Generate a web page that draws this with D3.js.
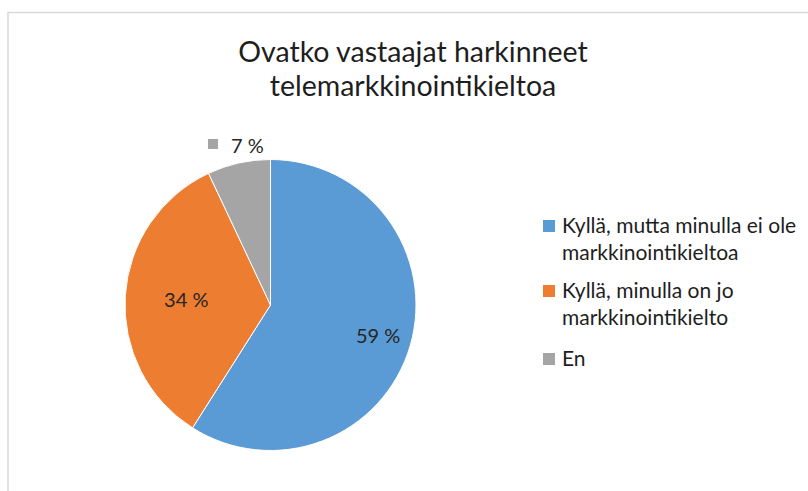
<!DOCTYPE html>
<html>
<head>
<meta charset="utf-8">
<script src="https://cdn.jsdelivr.net/npm/d3@7"></script>
<style>
  body { margin: 0; background: #fff; }
  svg { display: block; font-family: Lato, 'Noto Sans', sans-serif; }
</style>
</head>
<body>
<svg id="chart" width="808" height="491"></svg>
<script>
const titleLines = ['Ovatko vastaajat harkinneet', 'telemarkkinointikieltoa'];
const categories = ['Kyllä, mutta minulla ei ole markkinointikieltoa', 'Kyllä, minulla on jo markkinointikielto', 'En'];
const values = [59, 34, 7];
const valueLabels = ['59 %', '34 %', '7 %'];
const colors = ['#5b9bd5', '#ed7d31', '#a5a5a5'];

const svg = d3.select('#chart');

// chart area border, runs off the right and bottom edges
svg.append('rect')
  .attr('x', 8).attr('y', 12.5)
  .attr('width', 900).attr('height', 600)
  .attr('fill', '#fff')
  .attr('stroke', '#d9d9d9')
  .attr('stroke-width', 1.5);

// title
svg.append('g')
  .selectAll('text')
  .data(titleLines)
  .join('text')
  .attr('x', 413)
  .attr('y', (d, i) => 62 + i * 34)
  .attr('text-anchor', 'middle')
  .attr('font-size', 28.5)
  .attr('fill', '#1e1e1e')
  .text(d => d);

// pie
const cx = 270.5, cy = 305, R = 145.5;
const pie = d3.pie().sort(null).value(d => d);
const arcs = pie(values);
const arc = d3.arc().innerRadius(0).outerRadius(R);

const g = svg.append('g').attr('transform', `translate(${cx},${cy})`);
g.selectAll('path')
  .data(arcs)
  .join('path')
  .attr('d', arc)
  .attr('fill', (d, i) => colors[i])
  .attr('stroke', '#fff')
  .attr('stroke-width', 1);

// data labels (best fit: big slices inside, small one outside with key)
const labelR = [0.77, 0.58, 1.12];
arcs.forEach((a, i) => {
  const la = d3.arc().innerRadius(R * labelR[i]).outerRadius(R * labelR[i]);
  const [lx, ly] = la.centroid(a);
  const lg = g.append('g').attr('transform', `translate(${lx},${ly})`);
  if (labelR[i] > 1) {
    lg.append('rect')
      .attr('x', -27).attr('y', -7)
      .attr('width', 10).attr('height', 10)
      .attr('fill', colors[i]);
    lg.append('text')
      .attr('x', -4).attr('y', 7)
      .attr('font-size', 20)
      .attr('fill', '#262626')
      .text(valueLabels[i]);
  } else {
    lg.append('text')
      .attr('y', 7)
      .attr('text-anchor', 'middle')
      .attr('font-size', 20)
      .attr('fill', '#262626')
      .text(valueLabels[i]);
  }
});

// legend
const legend = svg.append('g').attr('transform', 'translate(543,0)');
const itemY = [233, 298, 366];
categories.forEach((c, i) => {
  const item = legend.append('g');
  item.append('rect')
    .attr('x', 0).attr('y', itemY[i] - 13)
    .attr('width', 12).attr('height', 12)
    .attr('fill', colors[i]);
  const t = item.append('text')
    .attr('x', 19).attr('y', itemY[i])
    .attr('font-size', 21)
    .attr('fill', '#1e1e1e');
  // wrap words into lines no wider than 248px
  const words = c.split(' ');
  let line = [];
  let tspan = t.append('tspan').attr('x', 19).attr('dy', 0);
  words.forEach(w => {
    line.push(w);
    tspan.text(line.join(' '));
    if (tspan.node().getComputedTextLength() > 248 && line.length > 1) {
      line.pop();
      tspan.text(line.join(' '));
      line = [w];
      tspan = t.append('tspan').attr('x', 19).attr('dy', 26.5).text(w);
    }
  });
});
</script>
</body>
</html>
